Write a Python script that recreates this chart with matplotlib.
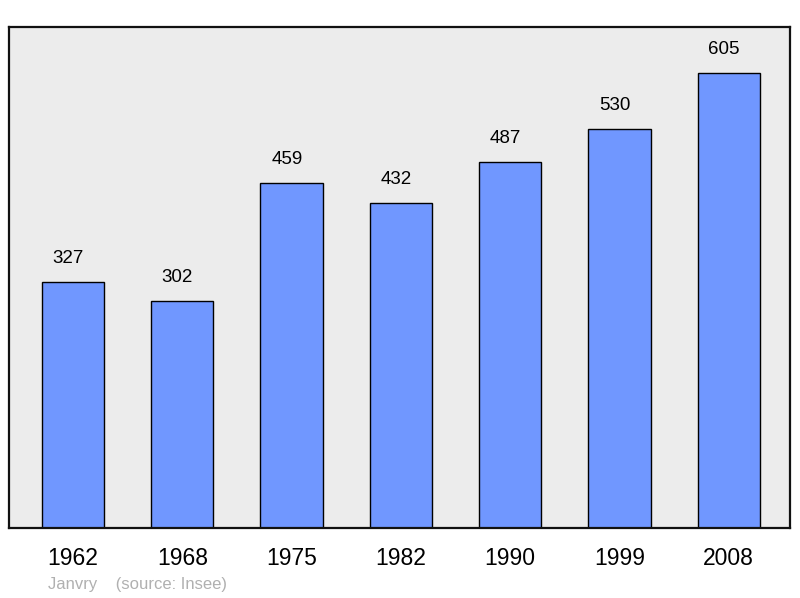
import matplotlib.pyplot as plt
import numpy as np

plt.rcParams['font.family'] = ['Liberation Sans', 'DejaVu Sans']

years = ['1962', '1968', '1975', '1982', '1990', '1999', '2008']
population = [327, 302, 459, 432, 487, 530, 605]

fig = plt.figure(figsize=(8, 5.98), dpi=100)
ax = fig.add_axes([9 / 800, 1 - 528 / 598, 781 / 800, 501 / 598])
ax.set_facecolor('#ececec')

x = np.arange(len(years))
ax.bar(x, population, width=0.57, color='#7097ff', edgecolor='black', linewidth=1.0, zorder=2)

for xi, v in zip(x, population):
    ax.annotate(str(v), (xi, v), xytext=(-3.5, 17), textcoords='offset points',
                ha='center', va='center', fontsize=13.5, color='black')

ax.set_xlim(-0.586, 6.56)
ax.set_ylim(0, 666)
ax.set_xticks(x)
ax.set_xticklabels(years, fontsize=16.5)
ax.tick_params(axis='x', length=0, pad=14)
ax.set_yticks([])
for s in ax.spines.values():
    s.set_linewidth(1.6)
    s.set_color('#111111')

fig.text(48 / 800, 1 - 584 / 598, 'Janvry    (source: Insee)', fontsize=12,
         color='#b0b0b0', ha='left', va='center')

fig.savefig('out.png', dpi=100)
